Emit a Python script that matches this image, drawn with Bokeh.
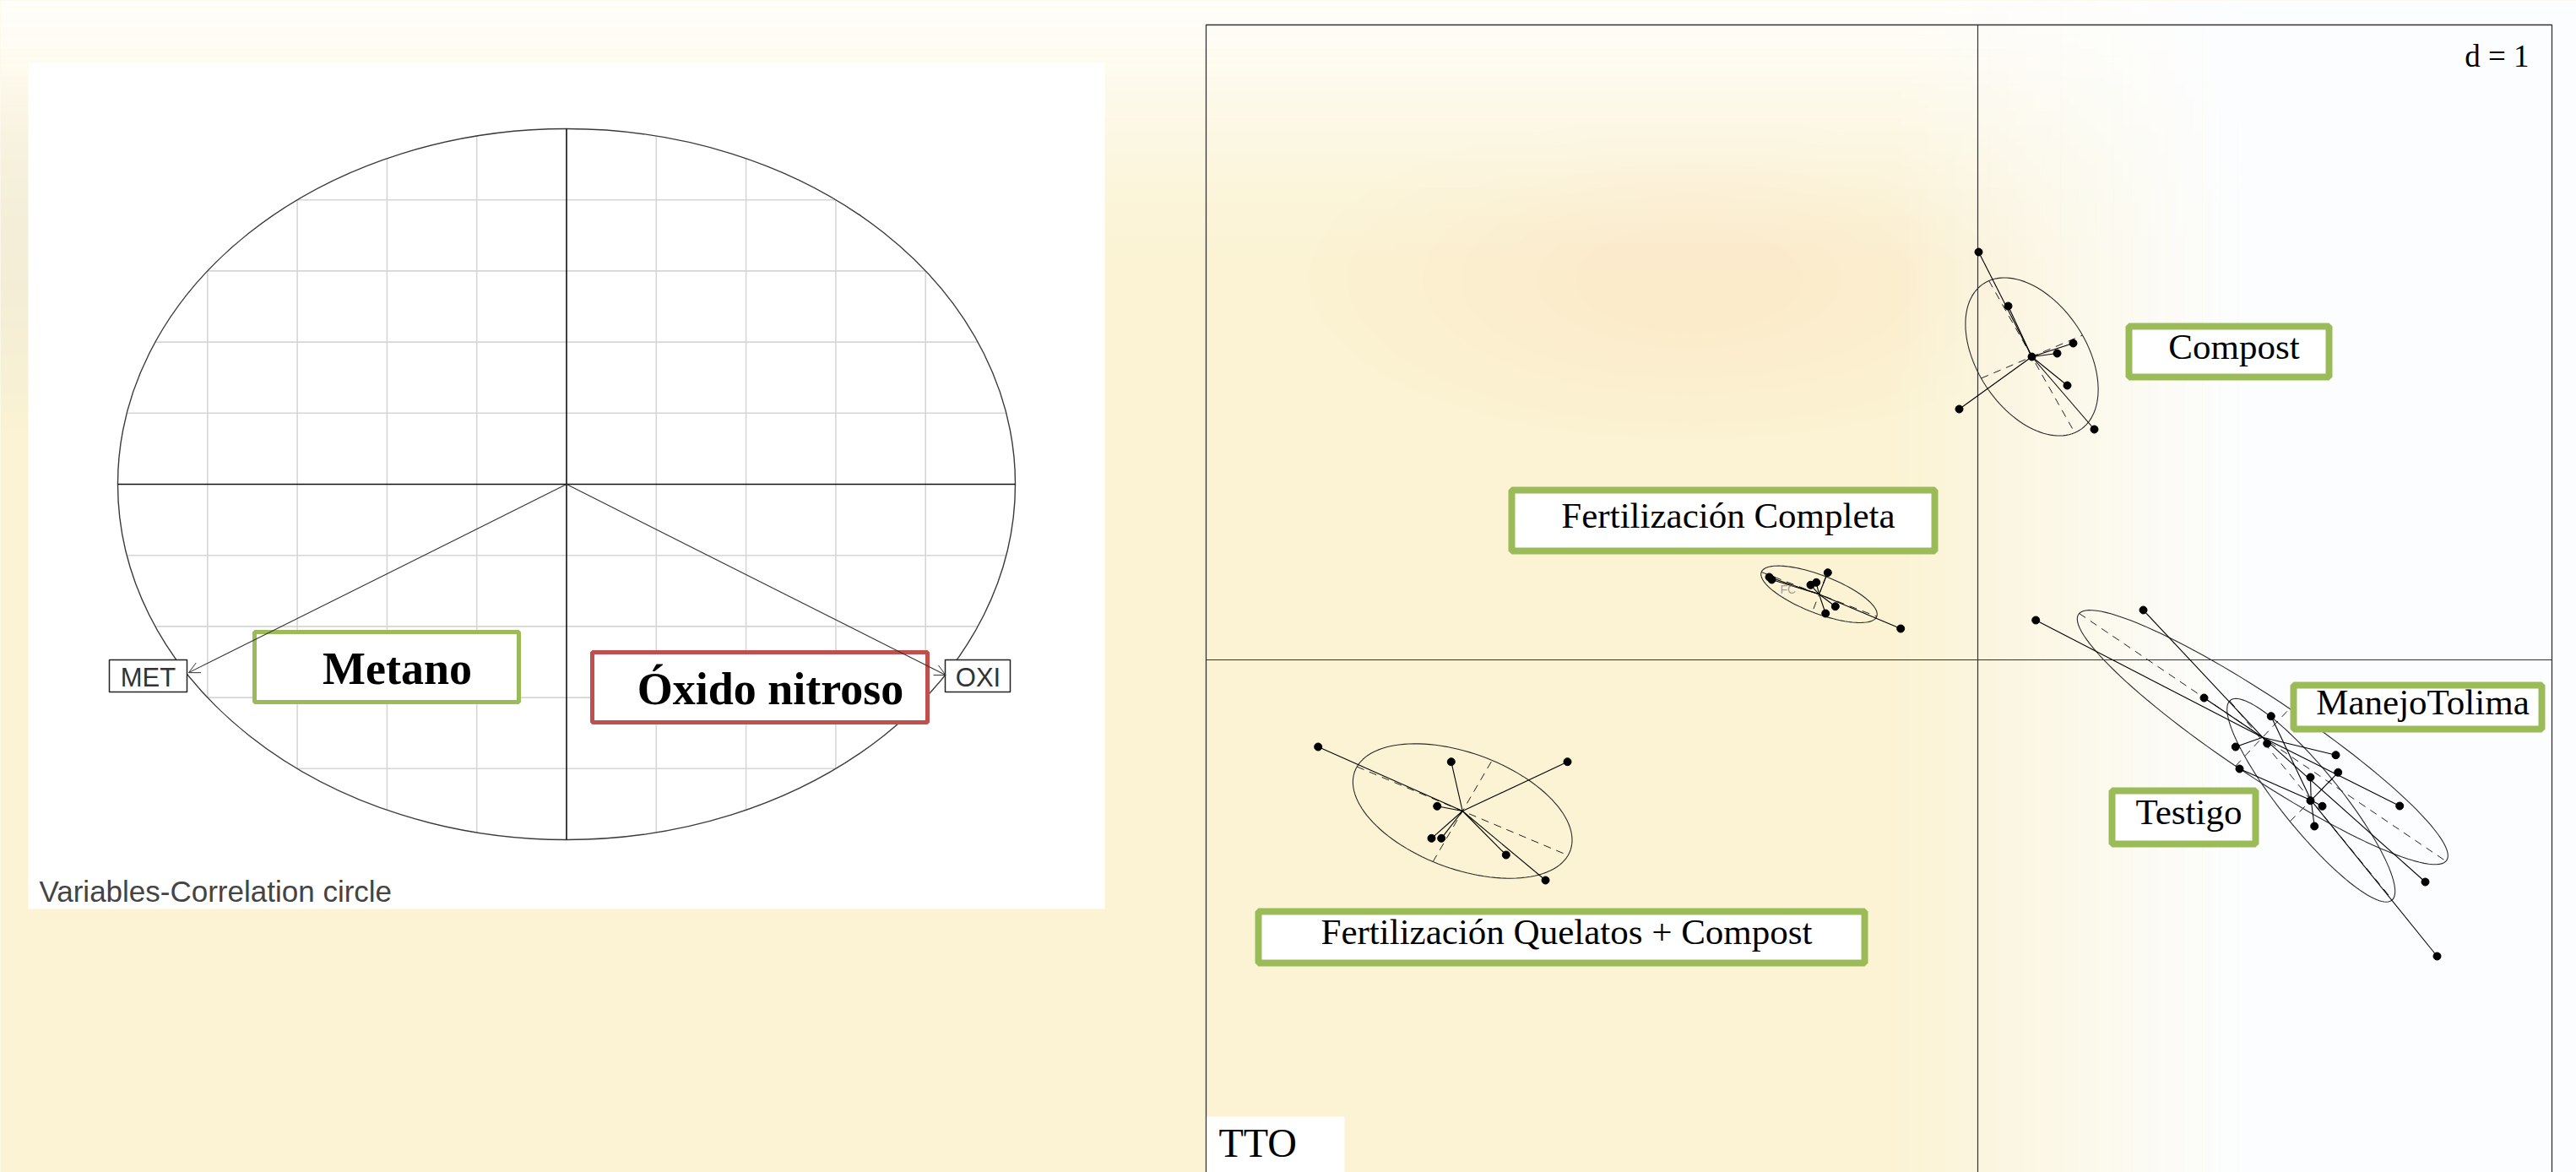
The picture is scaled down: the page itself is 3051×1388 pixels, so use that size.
import numpy as np
from bokeh.plotting import figure
from bokeh.models import Range1d, ColumnDataSource, Arrow, OpenHead
from bokeh.core.properties import value
from bokeh.embed import file_html
from bokeh.resources import INLINE

# ---------------- data: correlation circle (variables) ----------------
variables = ["MET", "OXI"]
var_x = [-0.842, 0.845]
var_y = [-0.530, -0.537]
grid_ticks = [-0.8, -0.6, -0.4, -0.2, 0.2, 0.4, 0.6, 0.8]

# ---------------- data: class scores (factor TTO) ----------------
groups = ["Compost", "Fertilización Completa", "Fertilización Quelatos + Compost",
          "ManejoTolima", "Testigo"]
compost_x = [0.005, 0.18, 0.32, 0.47, 0.565, 0.53, 0.69, -0.11]
compost_y = [2.415, 2.095, 1.795, 1.815, 1.875, 1.625, 1.365, 1.485]
fc_x = [-1.235, -1.22, -0.8885, -0.99, -0.9565, -0.8435, -0.9015, -0.4565]
fc_y = [0.49, 0.475, 0.5165, 0.4435, 0.4585, 0.3165, 0.275, 0.185]
fqc_x = [-3.9065, -3.1185, -2.43, -3.2015, -3.235, -3.1765, -2.7935, -2.56]
fqc_y = [-0.515, -0.6035, -0.6035, -0.8665, -1.0565, -1.0565, -1.155, -1.305]
manejo_x = [0.3435, 0.98, 1.34, 1.5265, 1.7135, 2.12, 2.4985, 2.65]
manejo_y = [0.235, 0.295, -0.225, -0.515, -0.495, -0.5635, -0.865, -1.315]
testigo_x = [1.7365, 1.55, 2.1335, 1.97, 1.97, 2.04, 1.9935, 2.72]
testigo_y = [-0.3335, -0.645, -0.6665, -0.695, -0.8335, -0.8665, -0.985, -1.755]

# group centres (read from the stars)
centre_x = [0.32, -0.94, -3.0515, 1.6865, 1.9735]
centre_y = [1.795, 0.3885, -0.895, -0.4585, -0.8315]
# ellipse conjugate semi-axes (u, v) per group
ell_ux = [0.254, 0.3415, 0.625, 1.086, 0.4815]
ell_uy = [-0.45, -0.1315, -0.2625, -0.7335, -0.589]
ell_vx = [0.30, -0.04, 0.175, 0.16, 0.125]
ell_vy = [0.1275, -0.105, 0.30, 0.17, 0.125]
panel_xlim = [-4.57, 3.40]
panel_ylim = [-3.2, 3.76]

W, H = 3051, 1388
BASE = 0.33  # shift from alphabetic baseline as rendered


def by(y, size):
    return y - BASE * size


p = figure(width=W, height=H, x_range=Range1d(0, W), y_range=Range1d(H, 0),
           output_backend="svg", toolbar_location=None, min_border=0,
           x_axis_location=None, y_axis_location=None)
p.grid.visible = False
p.outline_line_color = None
p.background_fill_color = "#FBF3D3"
p.border_fill_color = "#FBF3D3"

# left panel scale: centre px (670.5, 573), 531.5 px / unit in x, 421 px / unit in y
LCX, LCY, LSX, LSY = 670.5, 573.0, 531.5, 421.0
# right panel scale: origin px (2342, 781), 200 px / unit
RCX, RCY, RS = 2342.0, 781.0, 200.0
p.extra_x_ranges = {"lx": Range1d(-LCX / LSX, (W - LCX) / LSX),
                    "rx": Range1d(-RCX / RS, (W - RCX) / RS)}
p.extra_y_ranges = {"ly": Range1d((LCY - H) / LSY, LCY / LSY),
                    "ry": Range1d((RCY - H) / RS, RCY / RS)}
L = dict(x_range_name="lx", y_range_name="ly")
R = dict(x_range_name="rx", y_range_name="ry")

# ---------------- background (page pixels) ----------------
for k in range(8):
    p.ellipse(x=2000, y=330, width=900 - 90 * k, height=380 - 36 * k,
              fill_color="#E2D8C2", fill_alpha=0.014, line_color=None)
n = 40
ys = np.linspace(0, 330, n + 1)
p.quad(left=0, right=W, top=ys[:-1], bottom=ys[1:], fill_color="#FFFFFF",
       fill_alpha=np.linspace(0.92, 0.0, n) ** 1.3, line_color=None)
xs = np.linspace(2230, 2650, n + 1)
p.quad(left=xs[:-1], right=xs[1:], top=0, bottom=H, fill_color="#FCFDFE",
       fill_alpha=np.linspace(0.0, 1.0, n), line_color=None)
p.quad(left=2650, right=W, top=0, bottom=H, fill_color="#FCFDFE", fill_alpha=1.0, line_color=None)
yl = np.linspace(80, 520, n + 1)
p.quad(left=0, right=33, top=yl[:-1], bottom=yl[1:], fill_color="#EEE9DA",
       fill_alpha=0.55 * np.sin(np.linspace(0, np.pi, n)), line_color=None)

# ---------------- left panel: correlation circle ----------------
p.quad(left=33, right=1308, top=74, bottom=1076, fill_color="white", line_color=None)
gt = np.array(grid_ticks)
half = np.sqrt(1 - gt ** 2)
p.segment(x0=gt, y0=-half, x1=gt, y1=half, line_color="#D6D6D6", line_width=1.6, **L)
p.segment(x0=-half, y0=gt, x1=half, y1=gt, line_color="#D6D6D6", line_width=1.6, **L)
p.ellipse(x=0, y=0, width=2, height=2, fill_color=None, line_color="#3A3A3A", line_width=1.4, **L)
p.segment(x0=[-1, 0], y0=[0, -1], x1=[1, 0], y1=[0, 1], line_color="#111111", line_width=1.6, **L)
vsrc = ColumnDataSource(dict(x=var_x, y=var_y, name=variables))
p.add_layout(Arrow(end=OpenHead(size=13, line_width=1, line_color="#333333"),
                   x_start=0, y_start=0, x_end="x", y_end="y", source=vsrc,
                   line_color="#333333", line_width=1.1, **L))

# variable label boxes (page pixels)
p.quad(left=[129, 1119], right=[221, 1196], top=[781, 781], bottom=[819, 819],
       fill_color="white", line_color="#222222", line_width=1.5)
p.text(x=[175, 1158], y=[by(812, 31)] * 2, text=variables, text_align="center",
       text_baseline="alphabetic", text_font=value("Liberation Sans"),
       text_font_size="31px", text_color="#333333")
p.text(x=[46], y=[by(1067, 35)], text=["Variables-Correlation circle"],
       text_font=value("Liberation Sans"), text_font_size="35px", text_color="#444444",
       text_baseline="alphabetic")

# annotation boxes Metano / Oxido nitroso
p.quad(left=[301, 701], right=[614, 1098], top=[748, 772], bottom=[831, 855],
       fill_color="white", line_color=["#9BBB59", "#C0504D"], line_width=5)
p.text(x=[470, 912], y=[by(809, 54), by(833, 54)], text=["Metano", "Óxido nitroso"],
       text_align="center", text_baseline="alphabetic", text_font=value("Liberation Serif"),
       text_font_style="bold", text_font_size="54px", text_color="black")

# ---------------- right panel: s.class ----------------
p.quad(left=1428, right=3022, top=29, bottom=H + 20, fill_color=None,
       line_color="#333333", line_width=1.3)
p.segment(x0=[0, panel_xlim[0]], y0=[panel_ylim[0], 0], x1=[0, panel_xlim[1]], y1=[panel_ylim[1], 0],
          line_color="#333333", line_width=1.2, **R)

gx = [compost_x, fc_x, fqc_x, manejo_x, testigo_x]
gy = [compost_y, fc_y, fqc_y, manejo_y, testigo_y]
t = np.linspace(0, 2 * np.pi, 121)
ex, ey, ax0, ay0, ax1, ay1 = [], [], [], [], [], []
sx0, sy0, sx1, sy1 = [], [], [], []
for i in range(len(groups)):
    cx, cy = centre_x[i], centre_y[i]
    ux, uy, vx, vy = ell_ux[i], ell_uy[i], ell_vx[i], ell_vy[i]
    ex.append(cx + ux * np.cos(t) + vx * np.sin(t))
    ey.append(cy + uy * np.cos(t) + vy * np.sin(t))
    ax0 += [cx - ux, cx - vx]; ay0 += [cy - uy, cy - vy]
    ax1 += [cx + ux, cx + vx]; ay1 += [cy + uy, cy + vy]
    for xx, yy in zip(gx[i], gy[i]):
        sx0.append(cx); sy0.append(cy); sx1.append(xx); sy1.append(yy)

p.multi_line(xs=ex, ys=ey, line_color="#2A2A2A", line_width=1.1, **R)
p.segment(x0=ax0, y0=ay0, x1=ax1, y1=ay1, line_color="#222222", line_width=1.0,
          line_dash="9 7", **R)
p.segment(x0=sx0, y0=sy0, x1=sx1, y1=sy1, line_color="black", line_width=1.1, **R)
allx = [v for g in gx for v in g]
ally = [v for g in gy for v in g]
p.scatter(x=allx, y=ally, size=9, marker="circle", fill_color="black", line_color="black", **R)

p.text(x=[2108], y=[by(702, 14)], text=["FC"], text_font=value("Liberation Sans"),
       text_font_size="14px", text_color="#777777", text_alpha=0.7, text_baseline="alphabetic")

# d = 1 and TTO
p.text(x=[2995], y=[by(78, 37)], text=["d = 1"], text_align="right", text_baseline="alphabetic",
       text_font=value("Liberation Serif"), text_font_size="37px", text_color="black")
p.quad(left=1429, right=1592, top=1322, bottom=H + 5, fill_color="white", line_color=None)
p.text(x=[1443], y=[by(1369, 48)], text=["TTO"], text_baseline="alphabetic",
       text_font=value("Liberation Serif"), text_font_size="48px", text_color="black")

# group label boxes (page pixels)
bl = [2521, 1790, 1490, 2716, 2501]
br = [2758, 2291, 2208, 3010, 2671]
bt = [386, 580, 1079, 811, 936]
bb = [446, 652, 1140, 863, 999]
p.quad(left=bl, right=br, top=bt, bottom=bb, fill_color="white",
       line_color="#9BBB59", line_width=8)
tx = [(a + b) / 2 + 6 for a, b in zip(bl, br)]
ty = [by((a + b) / 2 + 8, 43) for a, b in zip(bt, bb)]
p.text(x=tx, y=ty, text=groups, text_align="center", text_baseline="alphabetic",
       text_font=value("Liberation Serif"), text_font_size="43px", text_color="black")

open("out.html", "w").write(file_html(p, INLINE))
